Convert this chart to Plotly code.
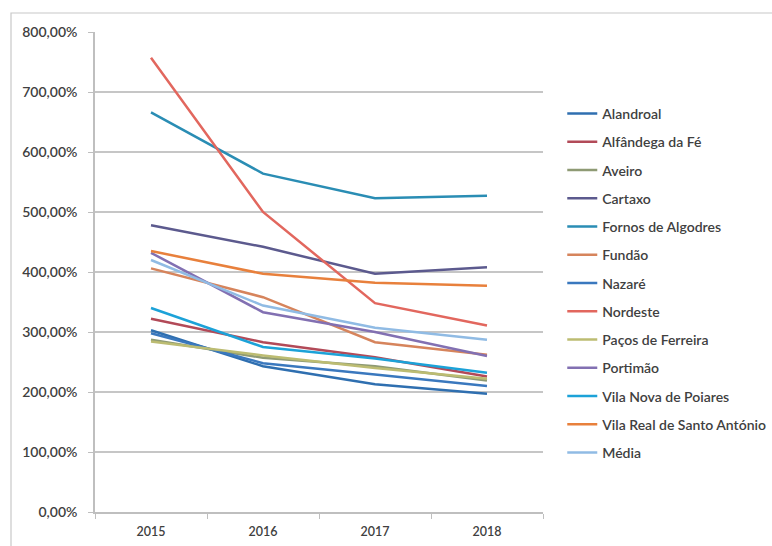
import plotly.graph_objects as go

years = ["2015", "2016", "2017", "2018"]

alandroal = [303, 243, 213, 197]
alfandega = [322, 283, 258, 226]
aveiro = [287, 257, 243, 219]
cartaxo = [478, 442, 397, 408]
fornos = [666, 564, 523, 527]
fundao = [406, 358, 283, 262]
nazare = [298, 248, 229, 210]
nordeste = [757, 500, 348, 311]
pacos = [284, 261, 240, 222]
portimao = [432, 333, 300, 260]
vila_nova = [340, 275, 256, 232]
vila_real = [435, 397, 382, 377]
media = [420, 344, 307, 287]

names = ["Alandroal", "Alfândega da Fé", "Aveiro", "Cartaxo", "Fornos de Algodres",
         "Fundão", "Nazaré", "Nordeste", "Paços de Ferreira", "Portimão",
         "Vila Nova de Poiares", "Vila Real de Santo António", "Média"]
values = [alandroal, alfandega, aveiro, cartaxo, fornos, fundao, nazare, nordeste,
          pacos, portimao, vila_nova, vila_real, media]
colors = ["#2f6fb0", "#b24a58", "#8e9a74", "#5c5a8e", "#2a8db4", "#d6845c",
          "#3a78be", "#e2675e", "#bcbc72", "#8270b2", "#1ca2d8", "#e8803c", "#90bbe4"]

fig = go.Figure()
for name, vals, col in zip(names, values, colors):
    fig.add_trace(go.Scatter(x=years, y=vals, mode="lines", name=name,
                             legendgroup=name,
                             line=dict(color=col, width=2.5)))

fam = "Lato, Open Sans, sans-serif"
font = dict(family=fam, size=13, color="#404040", weight=600)

fig.update_layout(
    width=772, height=546,
    margin=dict(l=95, r=229, t=32, b=34, autoexpand=False),
    paper_bgcolor="white", plot_bgcolor="white",
    separators=",.",
    font=font,
    showlegend=True,
    legend=dict(x=1.043, xanchor="left", y=0.8625, yanchor="top",
                tracegroupgap=7.05,
                font=dict(family=fam, size=14, color="#404040", weight=600),
                bgcolor="rgba(0,0,0,0)"),
    xaxis=dict(type="category", range=[-0.5, 3.5], showgrid=False, automargin=False,
               showline=True, linecolor="#bfbfbf", linewidth=1.5,
               ticks="outside", tickson="boundaries", ticklen=5, tickcolor="#bfbfbf",
               tickfont=dict(family=fam, size=12.5, color="#404040", weight=600),
               ticklabelstandoff=7),
    yaxis=dict(range=[0, 800], dtick=100, tickformat=".2f", ticksuffix="%",
               automargin=False,
               showgrid=True, gridcolor="#c6c6c6", gridwidth=1.5,
               showline=True, linecolor="#bfbfbf", linewidth=1.5,
               ticks="outside", ticklen=5, tickcolor="#bfbfbf",
               tickfont=dict(family=fam, size=14, color="#404040", weight=600),
               ticklabelstandoff=8,
               zeroline=False),
    shapes=[dict(type="rect", xref="paper", yref="paper",
                 x0=(11 - 95) / 448, x1=1.55, y0=-0.1, y1=(512 - 13) / 480,
                 line=dict(color="#c8c8c8", width=1.2), layer="below")],
)

fig.write_html("out.html")
